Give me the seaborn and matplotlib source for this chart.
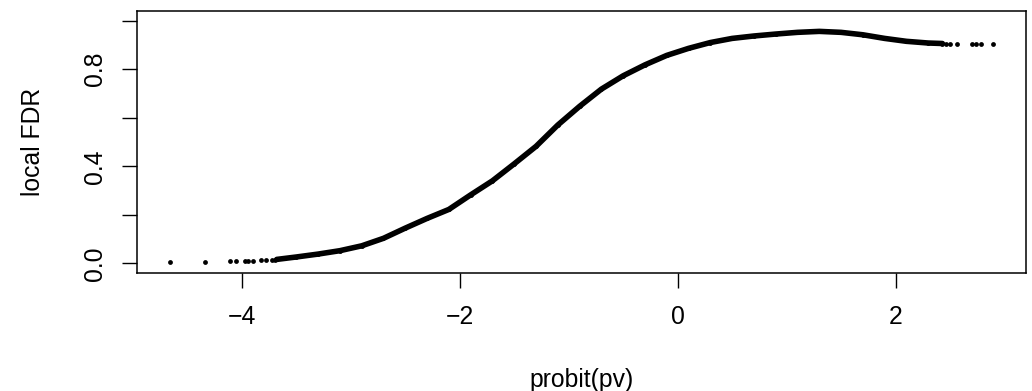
import matplotlib
matplotlib.use("Agg")
import matplotlib.pyplot as plt
import seaborn as sns
import numpy as np

# ---- data ----
left_tail_x = [-4.66, -4.34, -4.11, -4.055, -3.97, -3.94, -3.90, -3.82, -3.78, -3.725, -3.70]
left_tail_y = [0.005, 0.006, 0.008, 0.009, 0.010, 0.010, 0.011, 0.012, 0.013, 0.014, 0.015]

curve_x = [-3.68, -3.5, -3.3, -3.1, -2.9, -2.7, -2.5, -2.3, -2.1, -1.9, -1.7, -1.5,
           -1.3, -1.1, -0.9, -0.7, -0.5, -0.3, -0.1, 0.1, 0.3, 0.5, 0.7, 0.9,
           1.1, 1.3, 1.5, 1.7, 1.9, 2.1, 2.3, 2.43]
curve_y = [0.016, 0.026, 0.038, 0.052, 0.072, 0.103, 0.145, 0.185, 0.222, 0.282, 0.340, 0.410,
           0.482, 0.570, 0.647, 0.718, 0.773, 0.818, 0.857, 0.886, 0.910, 0.927, 0.937, 0.945,
           0.952, 0.956, 0.952, 0.942, 0.927, 0.915, 0.908, 0.906]

right_tail_x = [2.46, 2.50, 2.565, 2.70, 2.74, 2.78, 2.895]
right_tail_y = [0.906, 0.905, 0.905, 0.905, 0.905, 0.905, 0.905]

x_ticks = [-4, -2, 0, 2]
y_ticks = [0.0, 0.2, 0.4, 0.6, 0.8, 1.0]
y_tick_labels = ["0.0", "", "0.4", "", "0.8", ""]
x_label = "probit(pv)"
y_label = "local FDR"

# ---- plot ----
sns.set_theme(style="ticks")
plt.rcParams["font.family"] = ["Liberation Sans", "DejaVu Sans"]

W, H = 1032, 391
FS = 17.8
fig = plt.figure(figsize=(W / 100, H / 100), dpi=100)
left, right, top, bottom = 137, 1026, 11, 273
ax = fig.add_axes([left / W, 1 - bottom / H, (right - left) / W, (bottom - top) / H])

sns.lineplot(x=curve_x, y=curve_y, ax=ax, color="black", linewidth=4.0,
             sort=False, estimator=None, solid_capstyle="round")
sns.scatterplot(x=left_tail_x + curve_x + right_tail_x,
                y=left_tail_y + curve_y + right_tail_y,
                ax=ax, color="black", s=12, linewidth=0, marker="o")

xmin, xmax = -4.66, 2.895
pad = 0.04 * (xmax - xmin)
ax.set_xlim(xmin - pad, xmax + pad)
ax.set_ylim(-0.04, 1.04)

ax.set_xticks(x_ticks)
ax.set_xticklabels([("\u2212" + str(abs(v))) if v < 0 else str(v) for v in x_ticks])
ax.set_yticks(y_ticks)
ax.set_yticklabels(y_tick_labels, rotation=90, va="center")

for s in ax.spines.values():
    s.set_visible(True)
    s.set_color("black")
    s.set_linewidth(1.1)

ax.tick_params(axis="both", direction="out", length=10.8, width=1.0, color="black",
               labelsize=FS, labelcolor="black")
ax.tick_params(axis="x", pad=12)
ax.tick_params(axis="y", pad=11)

ax.set_xlabel(x_label, fontsize=FS, color="black")
ax.set_ylabel(y_label, fontsize=FS, color="black")
ax.xaxis.set_label_coords(0.5, (H - 380 - (H - bottom)) / (bottom - top))
ax.xaxis.label.set_va("center")
ax.yaxis.set_label_coords((33 - left) / (right - left), 0.5)
ax.yaxis.label.set_va("center")
ax.grid(False)

fig.savefig("out.png", dpi=100, facecolor="white")
